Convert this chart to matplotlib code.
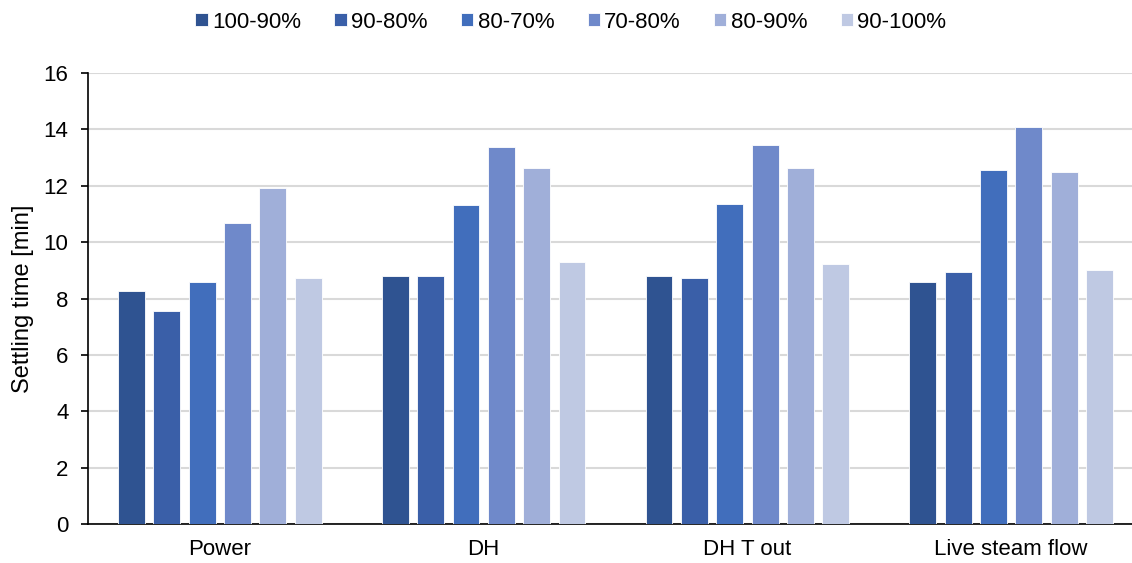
import matplotlib.pyplot as plt
import numpy as np

plt.rcParams["font.family"] = ["Liberation Sans", "DejaVu Sans"]
fontsize = 16

categories = ["Power", "DH", "DH T out", "Live steam flow"]
series_names = ["100-90%", "90-80%", "80-70%", "70-80%", "80-90%", "90-100%"]
s_100_90 = [8.25, 8.80, 8.80, 8.60]
s_90_80 = [7.55, 8.80, 8.73, 8.94]
s_80_70 = [8.60, 11.30, 11.37, 12.57]
s_70_80 = [10.68, 13.39, 13.46, 14.10]
s_80_90 = [11.93, 12.64, 12.64, 12.50]
s_90_100 = [8.73, 9.28, 9.22, 9.00]
colors = ["#2F5391", "#3A5FA8", "#416EBC", "#6F89CA", "#A0AFD9", "#BFC9E3"]

series = [s_100_90, s_90_80, s_80_70, s_70_80, s_80_90, s_90_100]

fig = plt.figure(figsize=(11.32, 5.63), dpi=100)
ax = fig.add_axes([0.0777, 0.0693, 0.9223, 0.801])

x = np.arange(len(categories))
pitch = 0.134
width = 0.102
for i, (vals, name, c) in enumerate(zip(series, series_names, colors)):
    ax.bar(x + (i - 2.5) * pitch, vals, width, label=name, color=c,
           edgecolor="white", linewidth=0.6, zorder=3)

ax.set_xlim(-0.5, 3.458)
ax.set_ylim(0, 16)
ax.set_yticks(np.arange(0, 17, 2))
ax.set_xticks(x)
ax.set_xticklabels(categories)
ax.tick_params(axis="x", length=0, labelsize=fontsize, pad=11)
ax.tick_params(axis="y", length=5, width=1.2, labelsize=fontsize, pad=9)
ax.yaxis.grid(True, color="#d9d9d9", linewidth=1.5, zorder=0)
ax.set_axisbelow(True)
for s in ["top", "right"]:
    ax.spines[s].set_visible(False)
ax.spines["left"].set_linewidth(1.2)
ax.spines["bottom"].set_linewidth(1.2)
ax.set_ylabel("Settling time [min]", fontsize=17, labelpad=7)

ax.legend(loc="center", bbox_to_anchor=(0.4626, 1.113), ncol=6, frameon=False,
          fontsize=fontsize, handlelength=0.55, handleheight=0.55,
          handletextpad=0.2, columnspacing=1.5)

fig.savefig("out.png", dpi=100)
